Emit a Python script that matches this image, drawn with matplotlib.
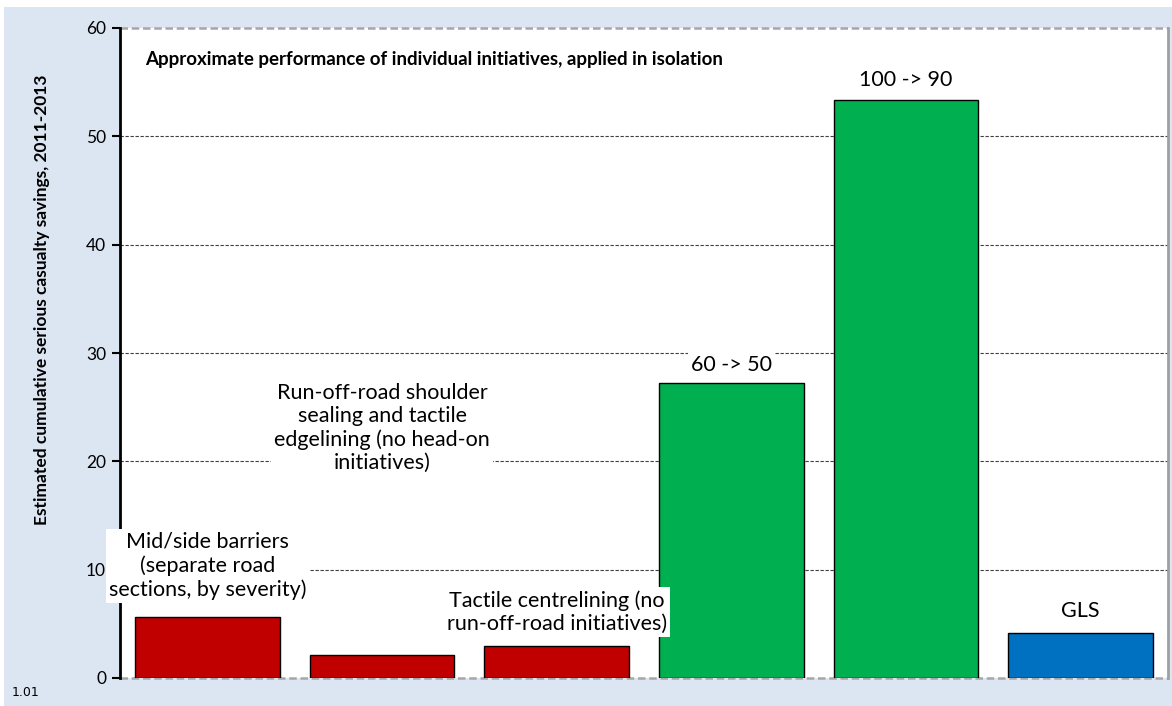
import matplotlib
matplotlib.use("Agg")
import matplotlib.pyplot as plt
from matplotlib.patches import Rectangle

categories = ["Mid/side barriers", "Run-off-road", "Tactile centrelining", "60 -> 50", "100 -> 90", "GLS"]
values = [5.6, 2.1, 3.0, 27.2, 53.4, 4.2]
colors = ["#c00000", "#c00000", "#c00000", "#00b050", "#00b050", "#0070c0"]
yticks = [0, 10, 20, 30, 40, 50, 60]
title_text = "Approximate performance of individual initiatives, applied in isolation"
ylabel_text = "Estimated cumulative serious casualty savings, 2011-2013"
annotations = [
    ("Mid/side barriers\n(separate road\nsections, by severity)", 0, 10.35),
    ("Run-off-road shoulder\nsealing and tactile\nedgelining (no head-on\ninitiatives)", 1, 23.1),
    ("Tactile centrelining (no\nrun-off-road initiatives)", 2, 6.1),
    ("60 -> 50", 3, 28.9),
    ("100 -> 90", 4, 55.2),
    ("GLS", 5, 6.2),
]

plt.rcParams['font.family'] = ['Lato', 'DejaVu Sans']

W, H = 1172, 706
fig = plt.figure(figsize=(W / 100, H / 100), dpi=100, facecolor="white")
fig.patches.append(Rectangle((4 / W, 0), 1 - 4 / W, (H - 7) / H, transform=fig.transFigure,
                             facecolor="#dce6f2", edgecolor="none", zorder=-10))

ax = fig.add_axes([120 / W, (H - 678) / H, (1168 - 120) / W, (678 - 28) / H])
ax.set_facecolor("white")

x = list(range(len(categories)))
ax.bar(x, values, width=0.83, color=colors, edgecolor="black", linewidth=1.0, zorder=3)

ax.set_xlim(-0.5, len(categories) - 0.5)
ax.set_ylim(0, 60)
ax.set_yticks(yticks)
ax.set_yticklabels([str(t) for t in yticks], fontsize=12.5)
ax.set_xticks([])

for t in yticks:
    if t in (0, 60):
        ax.axhline(t, color="#a6a6a6", lw=1.8, ls=(0, (3, 1.5)), zorder=1, clip_on=False)
    else:
        ax.axhline(t, color="#404040", lw=0.8, ls=(0, (3, 1.5)), zorder=1)

for s in ("top", "bottom"):
    ax.spines[s].set_visible(False)
ax.spines["left"].set_color("black")
ax.spines["left"].set_linewidth(2)
ax.spines["left"].set_zorder(2)
ax.spines["right"].set_color("#a0a0a0")
ax.spines["right"].set_linewidth(2)
ax.tick_params(axis="y", direction="out", length=6, width=1.5, color="black", pad=4)

fig.text(42 / W, (H - 300) / H, ylabel_text, rotation=90, fontsize=12.5, fontweight="bold",
         ha="center", va="center")

ax.text(0.024, 57.05, title_text, transform=ax.get_yaxis_transform(), fontsize=13.5,
        fontweight="bold", ha="left", va="center", zorder=5)

for txt, xi, yv in annotations:
    ax.text(xi, yv, txt, ha="center", va="center", fontsize=15.5, linespacing=1.2,
            bbox=dict(facecolor="white", edgecolor="none", pad=2), zorder=6, clip_on=False)

fig.text(12 / W, (H - 693) / H, "1.01", fontsize=9, ha="left", va="center",
         family=["DejaVu Sans"])

fig.savefig("out.png", dpi=100, facecolor=fig.get_facecolor())
